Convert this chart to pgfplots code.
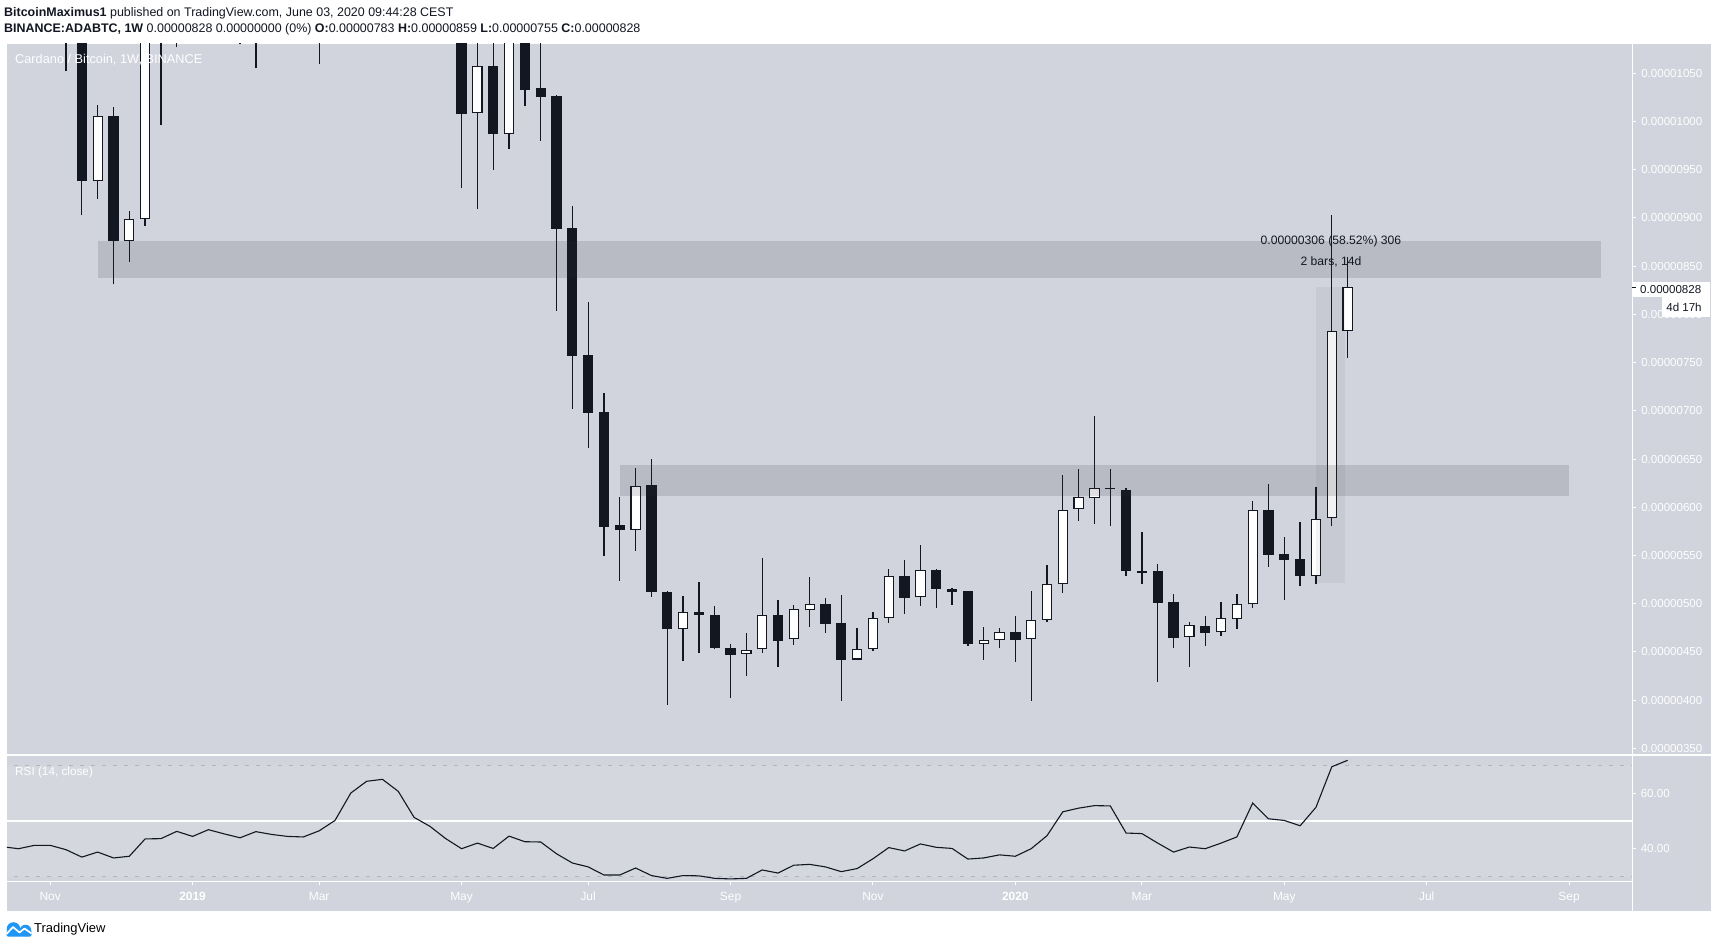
\documentclass[border=0pt]{standalone}
\usepackage{pgfplots}
\pgfplotsset{compat=1.18}
\usepackage{pgfplotstable}
\usepackage{fontspec}
\setmainfont{Liberation Sans}

\definecolor{bg}{RGB}{209,212,220}
\definecolor{candle}{RGB}{19,23,34}
\definecolor{zone}{RGB}{42,46,57}
\definecolor{bandline}{RGB}{178,181,190}
\definecolor{tvblue}{RGB}{33,150,243}

% weekly ADA/BTC candles, prices in 1e-8 BTC, week 0 = 6 Jan 2020
\pgfplotstableread{
w o h l c
-63 1185 1230 1150 1205
-62 1205 1240 1160 1180
-61 1180 1200 1120 1130
-60 1130 1150 1052 1100
-59 1100 1110 903 938.6
-58 938 1016.7 920 1006
-57 1006 1014.6 831 876.4
-56 876.4 907 854.6 898.5
-55 898.5 1200 892 1150
-54 1150 1290 996 1260
-53 1260 1295 1077 1200
-52 1200 1260 1150 1225
-51 1225 1300 1190 1270
-50 1270 1285 1180 1230
-49 1230 1250 1080 1195
-48 1195 1270 1055 1250
-47 1250 1275 1190 1225
-46 1225 1260 1170 1210
-45 1210 1250 1180 1205
-44 1205 1280 1060 1265
-43 1265 1420 1240 1390
-42 1390 1800 1380 1700
-41 1700 1850 1600 1760
-40 1760 1790 1550 1600
-39 1600 1650 1300 1350
-38 1350 1400 1180 1250
-37 1250 1290 1100 1180
-36 1180 1200 1090 1110
-35 1110 1130 931 1008
-34 1008.4 1100 909.6 1057
-33 1057 1090 950 987.3
-32 987.3 1120 971.7 1100
-31 1100 1110 1016 1033
-30 1034.3 1085 980 1025.6
-29 1026.4 1027.5 803.8 888.8
-28 889.5 912.3 702 757.2
-27 757.9 812.8 661.8 698
-26 698.8 718.1 549.8 579.9
-25 581.7 610.7 523.9 576.8
-24 576.8 640.7 555 621.7
-23 623.1 650.1 507.3 512.5
-22 512.2 513.2 395.2 474.1
-21 473.4 508.1 440.8 491.2
-20 491.2 522.5 449.1 488.7
-19 488.4 497.7 452.6 454.3
-18 454.3 458.1 402.5 447
-17 447.4 469.6 425.3 451.6
-16 452.6 547.4 449.1 488
-15 488.4 503.9 434.6 461.6
-14 463 498.4 457.4 494.3
-13 493.2 527.7 476.2 499.4
-12 499.8 505.7 469.9 479.3
-11 480 509.1 399.4 441.9
-10 442.2 474.8 441.5 452.6
-9 452.6 491.2 451.2 484.9
-8 484.9 536 480.4 528.5
-7 528.8 545.4 489.7 506.3
-6 506.7 560.9 498 534.7
-5 534.7 536 496 515.6
-4 515.3 516.3 499 511.9
-3 513.2 513.5 456.4 458.5
-2 458.1 475.9 441.9 462
-1 462 474.8 454.3 470.3
0 470.7 487.3 439.8 462.7
1 463 513.2 399.4 482.8
2 482.8 540.2 481.4 520.2
3 520.2 633.5 511.5 596.9
4 597.9 639.7 586.2 610.4
5 609.3 694.6 582.7 619.7
6 619.5 639.7 581 618.5
7 617.9 619.7 529 534.2
8 533.5 574.4 520.8 532.3
9 534.1 541.3 419.2 501.2
10 501.9 510.2 454.3 464.9
11 465.3 480.8 434.6 477.7
12 476.7 487.3 456.4 469.9
13 470.3 501.8 467 484.9
14 483.8 510.2 474.1 499.4
15 499.4 606.5 496 596.9
16 596.9 624.2 538.4 550.9
17 551.2 569.2 504.3 545.7
18 546 584.8 518 529
19 528.5 621.3 520.1 587.6
20 588.6 903 580.9 783
21 783 859 755 828
}\candles

% RSI(14, close)
\pgfplotstableread{
w r
-64 40.8
-63 40.1
-62 41.3
-61 41.3
-60 39.75
-59 37.1
-58 38.9
-57 36.8
-56 37.4
-55 43.6
-54 43.7
-53 46.3
-52 44.5
-51 46.9
-50 45.4
-49 44
-48 46.2
-47 45.2
-46 44.5
-45 44.3
-44 46.5
-43 50.2
-42 60
-41 64.2
-40 64.9
-39 60.6
-38 51.3
-37 48.1
-36 43.7
-35 40.1
-34 42.1
-33 40.2
-32 44.6
-31 42.6
-30 42.5
-29 38.3
-28 35
-27 33.6
-26 30.7
-25 30.7
-24 33.2
-23 30.5
-22 29.5
-21 30.5
-20 30.4
-19 29.5
-18 29.3
-17 29.5
-16 32.5
-15 31.4
-14 34.2
-13 34.5
-12 33.6
-11 31.9
-10 33
-9 36.5
-8 40.5
-7 39.3
-6 41.8
-5 40.6
-4 40.2
-3 36.4
-2 36.8
-1 37.9
0 37.4
1 40.1
2 44.75
3 53.3
4 54.6
5 55.5
6 55.4
7 45.7
8 45.5
9 42.1
10 38.9
11 40.7
12 40.1
13 42.1
14 44.3
15 56.4
16 50.8
17 50.2
18 48.3
19 54.9
20 69.4
21 71.7
}\rsi

\pgfplotsset{
  candle bars/.style={only marks, mark=*, mark size=0pt,
    mark options={draw=none, fill=none}, forget plot},
}

\begin{document}
\begin{tikzpicture}
\useasboundingbox (0bp,0bp) rectangle (1718bp,948bp);
\fill[white] (0bp,0bp) rectangle (1718bp,948bp);
\fill[bg] (7bp,37bp) rectangle (1711bp,904bp);

% price pane
\begin{axis}[
    at={(7bp,193bp)}, anchor=south west,
    scale only axis, width=1625bp, height=711bp,
    xmin=-63.73, xmax=38.98,
    ymin=343.2, ymax=1080.3,
    axis line style={draw=none},
    xtick=\empty,
    ytick={350,400,...,1050},
    yticklabels={0.00000350,0.00000400,0.00000450,0.00000500,0.00000550,0.00000600,0.00000650,0.00000700,0.00000750,0.00000800,0.00000850,0.00000900,0.00000950,0.00001000,0.00001050},
    ytick pos=right, yticklabel pos=right,
    tick align=outside, major tick length=4bp,
    tick style={white, line width=1bp},
    yticklabel style={font=\fontsize{11.6}{13}\selectfont, text=white, anchor=west, inner sep=0pt, xshift=5bp},
]
% wicks
\addplot[candle bars,
    error bars/.cd, y dir=plus, y explicit, error mark=none,
    error bar style={candle, line width=1.3bp}]
    table[x=w, y=l, y error expr={\thisrow{h}-\thisrow{l}}] {\candles};
% bodies
\addplot[candle bars,
    error bars/.cd, y dir=plus, y explicit, error mark=none,
    error bar style={candle, line width=10.3bp}]
    table[x=w, y expr={min(\thisrow{o},\thisrow{c})}, y error expr={abs(\thisrow{c}-\thisrow{o})}] {\candles};
% hollow up candles
\addplot[candle bars,
    error bars/.cd, y dir=plus, y explicit, error mark=none,
    error bar style={white, line width=8.2bp}]
    table[x=w, y expr={\thisrow{o}+1.05}, y error expr={max(\thisrow{c}-\thisrow{o}-2.1,0)}] {\candles};
% zones
\addplot[fill=zone, fill opacity=0.15, draw=none, forget plot]
    coordinates {(-58,837.4) (37,837.4) (37,876.4) (-58,876.4)};
\addplot[fill=zone, fill opacity=0.15, draw=none, forget plot]
    coordinates {(-25,611.4) (35,611.4) (35,643.5) (-25,643.5)};
% measure box
\addplot[fill=zone, fill opacity=0.06, draw=none, forget plot]
    coordinates {(19,522) (20.85,522) (20.85,828) (19,828)};
\end{axis}

% RSI pane
\begin{axis}[
    at={(7bp,66bp)}, anchor=south west,
    scale only axis, width=1625bp, height=127bp,
    xmin=-63.73, xmax=38.98,
    ymin=28.2, ymax=73.6,
    axis line style={draw=none},
    xtick={-61,-52,-44,-35,-27,-18,-9,0,8,17,26,35},
    xticklabels={Nov,\textbf{2019},Mar,May,Jul,Sep,Nov,\textbf{2020},Mar,May,Jul,Sep},
    xtick pos=left, xticklabel pos=lower,
    ytick={40,60}, yticklabels={40.00,60.00},
    ytick pos=right, yticklabel pos=right,
    tick align=outside, major tick length=3.5bp,
    tick style={white, line width=1bp},
    xticklabel style={font=\fontsize{12}{14}\selectfont, text=white, anchor=base, inner sep=0pt, yshift=-15bp},
    yticklabel style={font=\fontsize{11.6}{13}\selectfont, text=white, anchor=west, inner sep=0pt, xshift=5bp},
]
\addplot[fill=white, fill opacity=0.08, draw=none, forget plot]
    coordinates {(-64,30) (39,30) (39,70) (-64,70)};
\addplot[bandline, line width=1bp, dash pattern=on 4.5bp off 6.5bp, forget plot]
    coordinates {(-64,70) (39,70)};
\addplot[bandline, line width=1bp, dash pattern=on 4.5bp off 6.5bp, forget plot]
    coordinates {(-64,30) (39,30)};
\addplot[white, line width=2bp, forget plot]
    coordinates {(-64,50) (39,50)};
\addplot[candle, line width=1.1bp, forget plot] table[x=w, y=r] {\rsi};
\end{axis}

\begin{scope}[x=1bp, y=1bp]
% pane separators and scale lines
\draw[white, line width=2bp] (7,193) -- (1711,193);
\draw[white, line width=1bp] (7,66) -- (1632,66);
\draw[white, line width=1bp] (1632,37) -- (1632,904);

% last price and countdown labels
\fill[white] (1631.5,651.3) rectangle (1710,666.3);
\draw[candle, line width=1bp] (1632,660.7) -- (1635.5,660.7);
\node[anchor=west, inner sep=0pt, text=candle, font=\fontsize{11.6}{13}\selectfont] at (1640,658.8) {0.00000828};
\fill[white] (1661.7,631.3) rectangle (1710,651.3);
\node[inner sep=0pt, text=candle, font=\fontsize{11.6}{13}\selectfont] at (1684,640.3) {4d 17h};

% measurement label
\node[text=candle, font=\fontsize{12.2}{14}\selectfont] at (1331,706.3) {0.00000306 (58.52\%) 306};
\node[text=candle, font=\fontsize{12.2}{14}\selectfont] at (1331,686.3) {2 bars,\ 14d};

% pane titles
\node[anchor=west, inner sep=0pt, text=white, font=\fontsize{12.8}{15}\selectfont] at (15,888) {Cardano / Bitcoin, 1W, BINANCE};
\node[anchor=west, inner sep=0pt, text=white, font=\fontsize{11.8}{14}\selectfont] at (15,176) {RSI (14, close)};

% header
\node[anchor=base west, inner sep=0pt, text=candle, font=\fontsize{12.5}{14}\selectfont] at (4,931)
    {\textbf{BitcoinMaximus1} published on TradingView.com, June 03, 2020 09:44:28 CEST};
\node[anchor=base west, inner sep=0pt, text=candle, font=\fontsize{12.5}{14}\selectfont] at (4,915)
    {\textbf{BINANCE:ADABTC, 1W}\ 0.00000828 0.00000000 (0\%) \textbf{O:}0.00000783 \textbf{H:}0.00000859 \textbf{L:}0.00000755 \textbf{C:}0.00000828};

% footer logo
\fill[tvblue] (13.5,19) circle (6.8);
\fill[tvblue] (25.5,17.5) circle (5.8);
\fill[tvblue, rounded corners=2bp] (6.5,11.3) rectangle (31.5,18);
\draw[white, line width=1.7bp, line join=round] (6.5,14) -- (13,21) -- (19.5,15.5) -- (24.5,19.5) -- (31.5,14.5);
\node[anchor=west, inner sep=0pt, text=black, font=\fontsize{13}{15}\selectfont] at (34,18.7) {TradingView};
\end{scope}
\end{tikzpicture}
\end{document}
